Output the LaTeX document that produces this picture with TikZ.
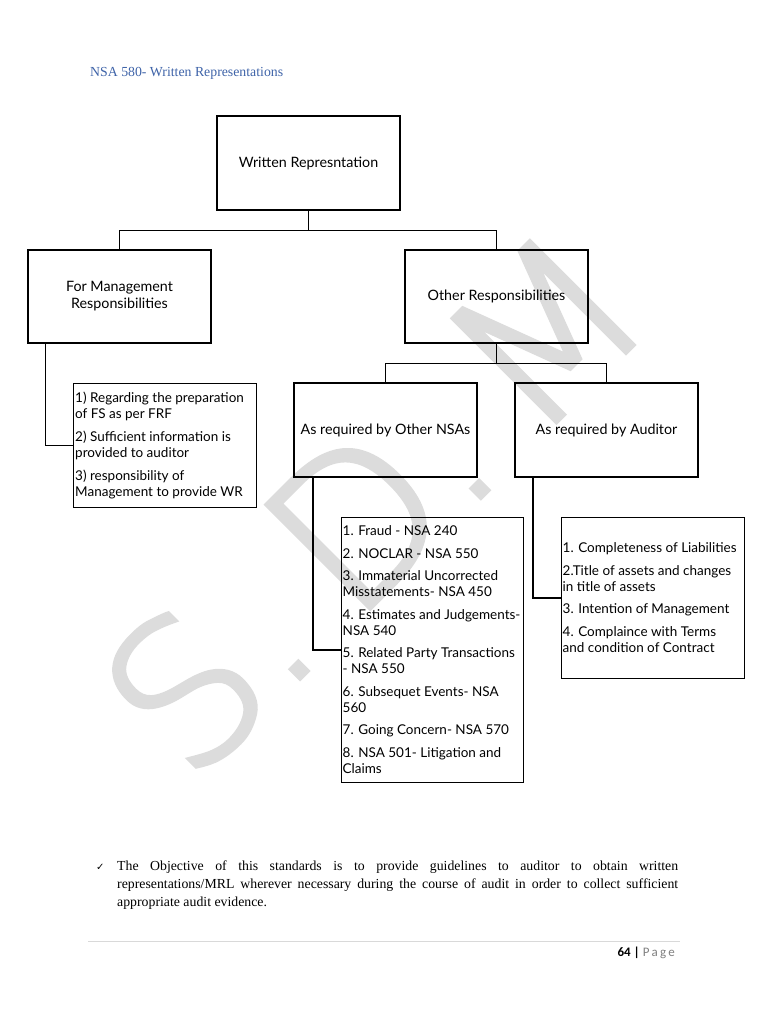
\documentclass[tikz,border=0pt]{standalone}
\usepackage{fontspec}
\setmainfont{Liberation Serif}
\newfontfamily\gillfont{Lato}
\newfontfamily\calibfont{Carlito}
\newfontfamily\dvfont{DejaVu Sans}
\newfontfamily\wmfont[FakeBold=2.5]{DejaVu Sans ExtraLight}
\definecolor{titleblue}{HTML}{3E63A8}
\definecolor{wmgray}{HTML}{DCDCDC}
\definecolor{rulegray}{HTML}{D9D9D9}
\definecolor{pagegray}{HTML}{7F7F7F}
\tikzset{
  box/.style={draw=black, line width=1.6pt, fill=none, minimum width=183pt, inner sep=0pt, font=\gillfont\fontsize{14.3}{17}\selectfont, align=center},
  listbox/.style={draw=black, line width=1.2pt, minimum width=183pt, inner sep=0pt, anchor=north west},
  listtext/.style={inner sep=0pt, anchor=north west, align=left, font=\gillfont\fontsize{13.5}{16}\selectfont},
  paraline/.style={anchor=base west, inner sep=0pt, font=\fontsize{13.8}{18}\selectfont},
  thin/.style={line width=0.9pt},
  thick/.style={line width=1.8pt},
}
\begin{document}
\begin{tikzpicture}[x=1pt,y=-1pt]
\useasboundingbox (0,0) rectangle (768,1024);
% watermark
\node[text=wmgray, rotate=45, font=\wmfont\fontsize{200}{200}\selectfont, inner sep=0pt] (wm) at (372,503) {S.\hspace{38pt}D.\hspace{38pt}M};
% title
\node[anchor=base west, inner sep=0pt, text=titleblue, font=\fontsize{13.8}{16}\selectfont] (title) at (90,77) {NSA 580- Written Representations};
% boxes
\node[box, minimum height=94pt] (wr) at (308.5,163) {Written Represntation};
\node[box, minimum height=93pt] (fmr) at (119.5,296.5) {For Management\\Responsibilities};
\node[box, minimum height=93pt] (or) at (496.5,296.5) {Other Responsibilities};
\node[box, minimum height=94pt] (nsa) at (385.5,430) {As required by Other NSAs};
\node[box, minimum height=94pt] (aud) at (606.5,430) {As required by Auditor};
% list boxes
\node[listbox, minimum height=124pt] (l1) at (73,383) {};
\node[listtext] (l1t) at (75,392) {1) Regarding the preparation\\of FS as per FRF\\[7pt]2) Sufficient information is\\provided to auditor\\[7pt]3) responsibility of\\Management to provide WR};
\node[listbox, minimum width=182pt, minimum height=265pt] (l2) at (341,517) {};
\node[listtext] (l2t) at (342.5,525.5) {1. Fraud - NSA 240\\[6.5pt]2. NOCLAR - NSA 550\\[6.5pt]3. Immaterial Uncorrected\\Misstatements- NSA 450\\[6.5pt]4. Estimates and Judgements-\\NSA 540\\[6.5pt]5. Related Party Transactions\\- NSA 550\\[6.5pt]6. Subsequet Events- NSA\\560\\[6.5pt]7. Going Concern- NSA 570\\[6.5pt]8. NSA 501- Litigation and\\Claims};
\node[listbox, minimum height=161pt] (l3) at (561,517) {};
\node[listtext] (l3t) at (562.5,542.5) {1. Completeness of Liabilities\\[6.5pt]2.Title of assets and changes\\in title of assets\\[6.5pt]3. Intention of Management\\[6.5pt]4. Complaince with Terms\\and condition of Contract};
% connectors
\coordinate (j1) at (308.5,230);
\coordinate (j2) at (496.5,363);
\draw[thick] (wr.south) -- (j1);
\draw[thin] (j1) -| (fmr.north);
\draw[thin] (j1) -| (or.north);
\draw[thick] (or.south) -- (j2);
\draw[thin] (j2) -| (nsa.north);
\draw[thin] (j2) -| (aud.north);
\draw[thin] ([xshift=18pt]fmr.south west) |- (l1.west);
\draw[thick] ([xshift=20pt]nsa.south west) |- (l2.west);
\draw[thick] ([xshift=19pt]aud.south west) |- (l3.west);
% bottom paragraph
\node[anchor=base west, inner sep=0pt, font=\dvfont\fontsize{10}{12}\selectfont] (chk) at (96,870) {✓};
\node[paraline] (p1) at (117,870) {\makebox[561pt][s]{The Objective of this standards is to provide guidelines to auditor to obtain written}};
\node[paraline] (p2) at (117,888) {\makebox[561pt][s]{representations/MRL wherever necessary during the course of audit in order to collect sufficient}};
\node[paraline] (p3) at (117,906) {appropriate audit evidence.};
% footer
\coordinate (fl) at (88,941);
\coordinate (fr) at (680,941);
\draw[rulegray, line width=0.8pt] (fl) -- (fr);
\node[anchor=base east, inner sep=0pt, font=\calibfont\fontsize{13}{15}\selectfont] (pg) at (675,956) {\textbf{64 |} \textcolor{pagegray}{P\,a\,g\,e}};
\end{tikzpicture}
\end{document}
